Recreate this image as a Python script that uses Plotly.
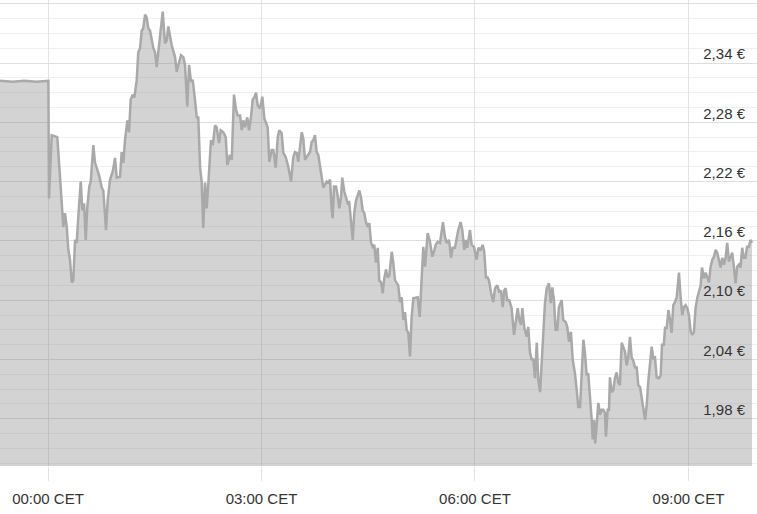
import pandas as pd
import plotly.graph_objects as go

# minutes relative to 00:00 CET
minutes = [
    -40.5, -30, -20, -10, 0.3,
    0.8, 3.1, 7.8, 10.1, 12.4, 12.9, 14.3, 15.8, 17.1, 18.5, 20.0, 21.3, 22.8, 24.2, 25.5,
    27.6, 28.9, 30.4, 31.8, 33.1, 34.8, 36.0, 38.2, 39.6, 41.1, 43.3, 45.3, 46.6, 48.9, 50.3,
    52.3, 54.5, 56.5, 57.9, 60.7, 62.1, 63.5, 64.9, 66.9, 68.3, 69.7, 71.4, 72.8, 74.8, 76.1,
    77.6, 79.0, 80.3, 81.8, 83.2, 84.6, 86.0, 88.8, 90.2, 91.6, 93.0, 94.4, 96.7, 98.6, 100.1,
    101.4, 104.3, 107.1, 108.5, 109.9, 112.1, 114.1, 115.5, 117.4, 118.9, 120.6, 122.0, 123.9,
    125.4, 126.7, 128.2, 129.6, 130.9, 132.4, 133.8, 135.2, 137.4, 138.9, 140.8, 142.2, 144.2,
    145.6, 147.8, 149.8, 151.2, 153.4, 154.9, 156.8, 158.5, 159.9, 161.9, 163.3, 164.7, 166.1,
    168.0, 169.5, 171.1, 172.6, 173.9, 175.4, 176.8, 178.7, 180.7, 182.4, 183.8, 185.2, 186.6,
    188.6, 190.0, 192.0, 193.7, 195.0, 197.0, 198.4, 200.4, 202.6, 204.9, 206.8, 208.2, 209.7,
    211.0, 212.5, 213.9, 215.2, 216.7, 218.1, 219.5, 220.9, 222.3, 223.7, 225.1, 226.5, 227.9,
    229.3, 230.8, 232.1, 233.5, 235.0, 236.3, 237.8, 239.2, 240.0, 241.1, 242.8, 244.2, 245.6,
    247.0, 248.1, 249.8, 251.2, 252.7, 254.0, 255.5, 256.9, 258.2, 259.7, 261.1, 262.5, 263.9,
    265.3, 266.7, 268.1, 269.6, 270.9, 272.4, 273.8, 275.1, 276.5, 278.0, 279.3, 280.8, 282.2,
    283.5, 285.0, 286.4, 287.8, 289.8, 291.1, 292.6, 294.0, 295.3, 296.8, 298.2, 299.6, 301.0,
    302.4, 303.8, 305.2, 306.6, 308.0, 310.3, 311.7, 313.4, 315.1, 316.4, 317.9, 320.1, 322.1,
    324.0, 325.4, 326.9, 328.5, 330.5, 333.0, 334.7, 336.1, 338.1, 339.8, 341.2, 343.1, 344.6,
    345.9, 347.9, 349.3, 351.0, 352.2, 353.5, 355.8, 357.2, 359.2, 361.4, 362.8, 364.8, 366.5,
    367.8, 369.3, 370.7, 371.8, 373.5, 375.4, 376.9, 378.8, 380.5, 381.9, 383.4, 384.7, 385.9,
    387.2, 388.9, 390.9, 392.9, 394.3, 396.0, 397.4, 398.8, 399.9, 401.6, 403.6, 404.9, 406.4,
    407.8, 409.2, 410.6, 412.1, 413.4, 414.9, 416.3, 417.7, 419.0, 420.5, 422.4, 423.9, 425.2,
    426.6, 428.0, 429.4, 430.8, 433.1, 434.4, 436.5, 437.8, 439.3, 440.9, 442.4, 444.3, 445.8,
    447.1, 448.6, 450.0, 451.4, 452.7, 454.2, 455.5, 457.0, 458.4, 459.3, 460.4, 461.4, 462.6,
    464.0, 465.4, 466.8, 468.2, 469.6, 470.4, 471.9, 473.0, 473.8, 475.2, 476.6, 478.0, 479.5,
    480.8, 482.2, 483.7, 485.0, 486.5, 487.9, 489.2, 490.7, 492.1, 493.5, 494.9, 496.4, 497.7,
    499.2, 500.6, 501.9, 503.4, 504.8, 506.1, 507.6, 509.0, 510.4, 511.8, 513.2, 515.2, 516.6,
    517.7, 519.2, 520.3, 521.7, 523.1, 524.5, 525.8, 527.2, 528.6, 530.1, 532.0, 533.4, 534.8,
    536.2, 537.6, 539.0, 540.4, 541.9, 543.2, 544.6, 546.0, 547.4, 548.8, 550.3, 551.4, 553.1,
    554.5, 555.9, 557.3, 558.7, 560.1, 561.5, 562.9, 564.3, 565.7, 567.1, 568.5, 569.9, 571.3,
    572.7, 574.1, 575.5, 576.9, 578.3, 579.7, 581.1, 582.5, 583.9, 585.3, 586.7, 588.1, 589.4,
    590.9, 592.3, 593.6,
]

prices = [
    2.322, 2.321, 2.322, 2.321, 2.322,
    2.203, 2.267, 2.265, 2.225, 2.188, 2.174, 2.188, 2.174, 2.151, 2.141, 2.118, 2.120, 2.161, 2.158, 2.184,
    2.220, 2.191, 2.198, 2.161, 2.194, 2.215, 2.220, 2.257, 2.239, 2.234, 2.225, 2.214, 2.211, 2.171, 2.201,
    2.222, 2.230, 2.244, 2.224, 2.225, 2.250, 2.239, 2.262, 2.282, 2.270, 2.303, 2.308, 2.305, 2.323, 2.351,
    2.355, 2.373, 2.375, 2.389, 2.386, 2.375, 2.373, 2.355, 2.351, 2.336, 2.350, 2.366, 2.392, 2.360, 2.363,
    2.377, 2.358, 2.346, 2.331, 2.338, 2.348, 2.346, 2.338, 2.296, 2.338, 2.321, 2.323, 2.303,
    2.285, 2.285, 2.235, 2.219, 2.173, 2.219, 2.193, 2.219, 2.262, 2.257, 2.277, 2.275, 2.259,
    2.272, 2.270, 2.265, 2.237, 2.247, 2.242, 2.308, 2.293, 2.287, 2.287, 2.272, 2.282, 2.275,
    2.285, 2.272, 2.285, 2.303, 2.305, 2.310, 2.297, 2.294, 2.306, 2.284, 2.279, 2.275, 2.240,
    2.252, 2.252, 2.234, 2.265, 2.272, 2.269, 2.249, 2.245, 2.235, 2.220, 2.245, 2.250, 2.249,
    2.240, 2.259, 2.270, 2.264, 2.242, 2.245, 2.247, 2.250, 2.260, 2.262, 2.267, 2.250, 2.247,
    2.235, 2.225, 2.214, 2.217, 2.220, 2.219, 2.222, 2.191, 2.183, 2.215, 2.215, 2.206, 2.193,
    2.204, 2.224, 2.210, 2.203, 2.198, 2.199, 2.176, 2.161, 2.188, 2.201, 2.206, 2.211, 2.204,
    2.191, 2.188, 2.179, 2.174, 2.178, 2.158, 2.154, 2.156, 2.138, 2.153, 2.120, 2.118, 2.107,
    2.122, 2.131, 2.123, 2.125, 2.149, 2.138, 2.120, 2.118, 2.115, 2.098, 2.103, 2.080, 2.088,
    2.070, 2.067, 2.043, 2.083, 2.102, 2.103, 2.103, 2.083, 2.120, 2.154, 2.134, 2.168, 2.159,
    2.144, 2.149, 2.156, 2.159, 2.158, 2.179, 2.164, 2.158, 2.161, 2.143, 2.153, 2.153, 2.164,
    2.171, 2.179, 2.171, 2.151, 2.161, 2.153, 2.171, 2.156, 2.154, 2.141, 2.153, 2.151, 2.156,
    2.149, 2.123, 2.123, 2.120, 2.108, 2.098, 2.112, 2.115, 2.108, 2.110, 2.093, 2.110, 2.112,
    2.100, 2.100, 2.092, 2.065, 2.080, 2.092, 2.080, 2.075, 2.092, 2.072, 2.063, 2.073, 2.047,
    2.040, 2.040, 2.021, 2.057, 2.019, 2.007, 2.037, 2.067, 2.097, 2.112, 2.117, 2.097, 2.113,
    2.100, 2.070, 2.070, 2.093, 2.100, 2.080, 2.078, 2.073, 2.058, 2.068, 2.040, 2.026, 2.009,
    1.992, 1.992, 2.031, 2.060, 2.047, 2.024, 2.026, 2.006, 1.979, 1.959, 1.979, 1.955, 1.979,
    1.996, 1.984, 1.989, 1.989, 1.986, 1.962, 1.989, 1.989, 2.022, 2.007, 2.009, 2.021, 2.027,
    2.017, 2.014, 2.057, 2.053, 2.048, 2.034, 2.042, 2.063, 2.042, 2.039, 2.032, 2.032, 2.014,
    2.012, 1.999, 1.991, 1.979, 1.994, 2.017, 2.035, 2.053, 2.041, 2.042, 2.022, 2.021, 2.024,
    2.055, 2.055, 2.072, 2.072, 2.090, 2.080, 2.067, 2.095, 2.098, 2.103, 2.128, 2.103, 2.085,
    2.093, 2.095, 2.092, 2.085, 2.068, 2.065, 2.068, 2.092, 2.102, 2.110, 2.115, 2.133, 2.122,
    2.128, 2.122, 2.118, 2.134, 2.141, 2.144, 2.151, 2.148, 2.139, 2.133, 2.143, 2.136, 2.143,
    2.158, 2.139, 2.144, 2.148, 2.134, 2.117, 2.134, 2.136, 2.133, 2.153, 2.143, 2.143, 2.154,
    2.154, 2.161, 2.158,
]

y_tickvals = [1.98, 2.04, 2.10, 2.16, 2.22, 2.28, 2.34, 2.40]
y_ticktext = ["1,98 €", "2,04 €", "2,10 €", "2,16 €", "2,22 €", "2,28 €", "2,34 €", ""]

x_range_minutes = [-40.5, 597.8]
y_range = [1.9322, 2.4038]

base = pd.Timestamp("2024-01-16 00:00:00")
times = [base + pd.Timedelta(minutes=m) for m in minutes]
x_range = [base + pd.Timedelta(minutes=m) for m in x_range_minutes]

fig = go.Figure()
fig.add_trace(go.Scatter(
    x=times, y=prices, mode="lines",
    line=dict(color="#a9a9a9", width=2.5),
    fill="tozeroy", fillcolor="rgba(120,120,120,0.33)",
    hoverinfo="skip",
))

font = dict(family="Liberation Sans, Arial, sans-serif", size=15, color="#333333")

fig.update_layout(
    width=757, height=514,
    margin=dict(l=0, r=0, t=0, b=48, autoexpand=False),
    paper_bgcolor="white", plot_bgcolor="white",
    showlegend=False,
    font=font,
    xaxis=dict(
        type="date", range=x_range, automargin=False,
        tickmode="linear", tick0=base, dtick=3 * 3600 * 1000,
        tickformat="%H:%M CET",
        showgrid=True, gridcolor="#e3e3e3", gridwidth=1,
        ticks="outside", ticklen=14, tickcolor="#e3e3e3", tickwidth=1,
        ticklabelstandoff=5,
        showline=False, zeroline=False,
        tickfont=font,
    ),
    yaxis=dict(
        range=y_range, side="right", automargin=False,
        tickmode="array", tickvals=y_tickvals, ticktext=y_ticktext,
        ticklabelposition="inside", ticklabelshift=-9, ticklabelstandoff=9,
        showgrid=True, gridcolor="#dedede", gridwidth=1,
        minor=dict(tickmode="linear", tick0=1.98, dtick=0.015,
                   showgrid=True, gridcolor="#f0f0f0", gridwidth=1),
        ticks="", showline=False, zeroline=False,
        tickfont=font,
    ),
)

fig.write_html(
    "out.html",
    config={"displayModeBar": False},
    post_script="document.body.style.margin='0';document.body.style.overflow='hidden';",
)
